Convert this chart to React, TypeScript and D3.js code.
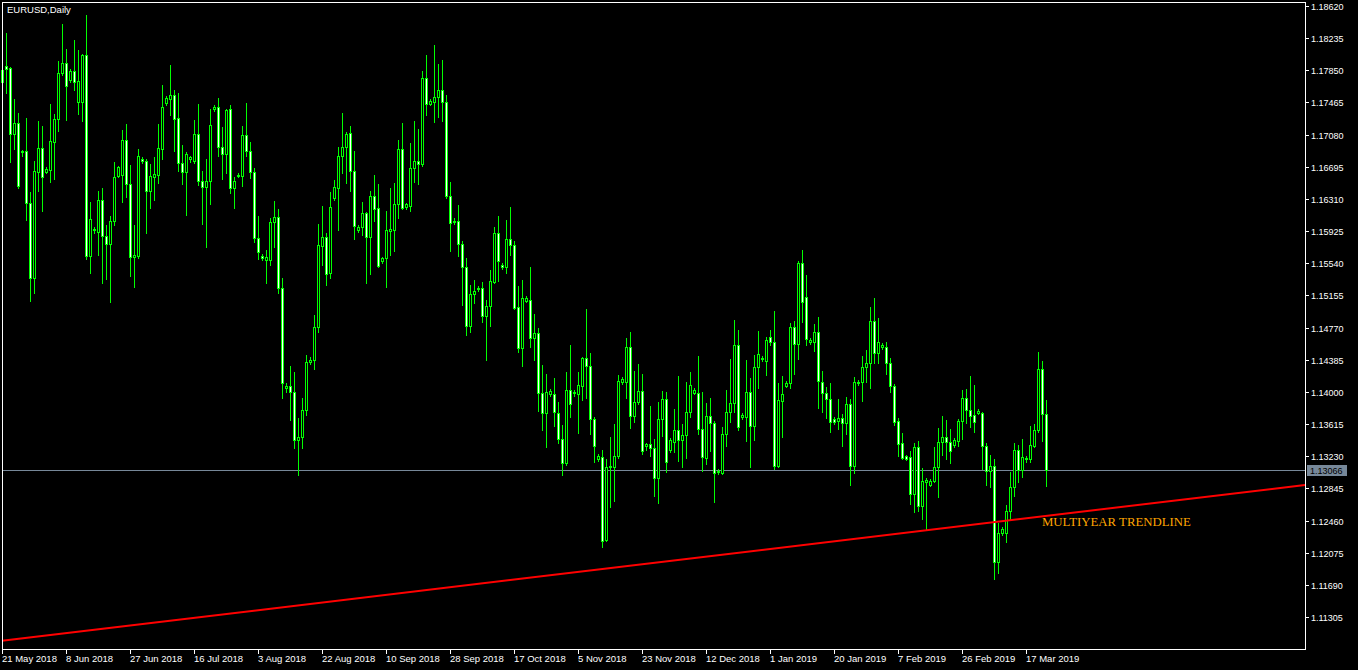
import * as d3 from "d3";

// EURUSD daily candles, 21 May 2018 .. 22 Mar 2019 (Sunday bars included, 25 Dec missing)
const OPEN = [
  1.1771, 1.1790, 1.1788, 1.1709, 1.1722, 1.1687, 1.1688, 1.1626, 1.1536, 1.1663, 1.1692, 1.1663, 1.1666, 1.1699, 1.1727, 1.1782,
  1.1794, 1.1774, 1.1784, 1.1747, 1.1747, 1.1803, 1.1563, 1.1594, 1.1591, 1.1630, 1.1587, 1.1577, 1.1605, 1.1658, 1.1660, 1.1701,
  1.1649, 1.1561, 1.1563, 1.1679, 1.1677, 1.1640, 1.1657, 1.1660, 1.1691, 1.1746, 1.1751, 1.1755, 1.1728, 1.1674, 1.1663, 1.1679,
  1.1677, 1.1709, 1.1652, 1.1645, 1.1653, 1.1739, 1.1741, 1.1693, 1.1685, 1.1739, 1.1644, 1.1658, 1.1658, 1.1707, 1.1688, 1.1663,
  1.1584, 1.1563, 1.1558, 1.1558, 1.1603, 1.1609, 1.1524, 1.1405, 1.1407, 1.1400, 1.1342, 1.1346, 1.1378, 1.1436, 1.1438, 1.1478,
  1.1575, 1.1585, 1.1542, 1.1632, 1.1644, 1.1683, 1.1693, 1.1710, 1.1665, 1.1594, 1.1597, 1.1614, 1.1585, 1.1634, 1.1620, 1.1557,
  1.1560, 1.1593, 1.1594, 1.1625, 1.1691, 1.1621, 1.1622, 1.1668, 1.1677, 1.1673, 1.1776, 1.1745, 1.1747, 1.1753, 1.1762, 1.1747,
  1.1634, 1.1605, 1.1605, 1.1577, 1.1549, 1.1479, 1.1517, 1.1523, 1.1524, 1.1491, 1.1503, 1.1531, 1.1590, 1.1552, 1.1549, 1.1583,
  1.1576, 1.1502, 1.1452, 1.1509, 1.1510, 1.1464, 1.1470, 1.1399, 1.1375, 1.1397, 1.1397, 1.1375, 1.1344, 1.1315, 1.1402, 1.1399,
  1.1397, 1.1407, 1.1440, 1.1431, 1.1367, 1.1320, 1.1322, 1.1223, 1.1310, 1.1310, 1.1323, 1.1412, 1.1412, 1.1454, 1.1371, 1.1388,
  1.1401, 1.1335, 1.1338, 1.1333, 1.1297, 1.1367, 1.1391, 1.1330, 1.1340, 1.1354, 1.1342, 1.1348, 1.1376, 1.1399, 1.1399, 1.1355,
  1.1321, 1.1371, 1.1363, 1.1305, 1.1303, 1.1350, 1.1376, 1.1387, 1.1456, 1.1370, 1.1370, 1.1400, 1.1359, 1.1430, 1.1439, 1.1437,
  1.1466, 1.1460, 1.1311, 1.1389, 1.1407, 1.1411, 1.1478, 1.1457, 1.1554, 1.1514, 1.1460, 1.1460, 1.1472, 1.1412, 1.1399, 1.1391,
  1.1367, 1.1365, 1.1369, 1.1363, 1.1385, 1.1311, 1.1411, 1.1412, 1.1430, 1.1434, 1.1485, 1.1446, 1.1454, 1.1454, 1.1434, 1.1407,
  1.1365, 1.1339, 1.1323, 1.1322, 1.1278, 1.1334, 1.1263, 1.1292, 1.1288, 1.1293, 1.1310, 1.1340, 1.1346, 1.1340, 1.1336, 1.1341,
  1.1365, 1.1393, 1.1378, 1.1372, 1.1375, 1.1375, 1.1335, 1.1305, 1.1311, 1.1196, 1.1231, 1.1231, 1.1257, 1.1286, 1.1330, 1.1306,
  1.1320, 1.1320, 1.1335, 1.1354, 1.1428, 1.1373,
];
const HIGH = [
  1.1790, 1.1830, 1.1789, 1.1751, 1.1734, 1.1690, 1.1728, 1.1639, 1.1676, 1.1724, 1.1718, 1.1669, 1.1745, 1.1733, 1.1796, 1.1840,
  1.1810, 1.1786, 1.1821, 1.1809, 1.1804, 1.1851, 1.1627, 1.1597, 1.1640, 1.1644, 1.1600, 1.1610, 1.1675, 1.1670, 1.1713, 1.1721,
  1.1672, 1.1600, 1.1691, 1.1681, 1.1679, 1.1673, 1.1681, 1.1721, 1.1767, 1.1754, 1.1791, 1.1762, 1.1758, 1.1695, 1.1687, 1.1683,
  1.1725, 1.1745, 1.1664, 1.1679, 1.1739, 1.1743, 1.1752, 1.1717, 1.1739, 1.1743, 1.1657, 1.1662, 1.1718, 1.1746, 1.1699, 1.1668,
  1.1610, 1.1565, 1.1570, 1.1608, 1.1628, 1.1619, 1.1536, 1.1411, 1.1431, 1.1424, 1.1369, 1.1393, 1.1444, 1.1442, 1.1492, 1.1601,
  1.1622, 1.1590, 1.1639, 1.1654, 1.1693, 1.1734, 1.1711, 1.1718, 1.1689, 1.1600, 1.1627, 1.1615, 1.1640, 1.1660, 1.1649, 1.1561,
  1.1616, 1.1644, 1.1650, 1.1701, 1.1722, 1.1626, 1.1698, 1.1724, 1.1715, 1.1784, 1.1803, 1.1751, 1.1815, 1.1792, 1.1797, 1.1756,
  1.1651, 1.1608, 1.1624, 1.1581, 1.1560, 1.1528, 1.1534, 1.1527, 1.1531, 1.1510, 1.1546, 1.1598, 1.1610, 1.1554, 1.1606, 1.1621,
  1.1581, 1.1527, 1.1534, 1.1515, 1.1549, 1.1493, 1.1476, 1.1432, 1.1421, 1.1403, 1.1417, 1.1388, 1.1360, 1.1424, 1.1456, 1.1402,
  1.1424, 1.1442, 1.1499, 1.1446, 1.1370, 1.1326, 1.1330, 1.1320, 1.1346, 1.1361, 1.1420, 1.1418, 1.1464, 1.1472, 1.1425, 1.1433,
  1.1421, 1.1339, 1.1383, 1.1344, 1.1388, 1.1401, 1.1400, 1.1345, 1.1379, 1.1419, 1.1361, 1.1412, 1.1424, 1.1405, 1.1443, 1.1400,
  1.1387, 1.1393, 1.1365, 1.1308, 1.1358, 1.1402, 1.1439, 1.1486, 1.1474, 1.1375, 1.1438, 1.1417, 1.1444, 1.1473, 1.1443, 1.1466,
  1.1474, 1.1497, 1.1411, 1.1419, 1.1413, 1.1482, 1.1485, 1.1557, 1.1570, 1.1540, 1.1464, 1.1481, 1.1490, 1.1425, 1.1406, 1.1411,
  1.1370, 1.1391, 1.1373, 1.1394, 1.1391, 1.1418, 1.1414, 1.1443, 1.1450, 1.1502, 1.1513, 1.1488, 1.1458, 1.1460, 1.1440, 1.1409,
  1.1369, 1.1351, 1.1324, 1.1329, 1.1339, 1.1341, 1.1309, 1.1297, 1.1296, 1.1334, 1.1357, 1.1371, 1.1366, 1.1356, 1.1345, 1.1367,
  1.1402, 1.1403, 1.1419, 1.1408, 1.1379, 1.1376, 1.1339, 1.1324, 1.1320, 1.1243, 1.1238, 1.1265, 1.1304, 1.1339, 1.1336, 1.1344,
  1.1323, 1.1359, 1.1361, 1.1448, 1.1437, 1.1390,
];
const LOW = [
  1.1764, 1.1758, 1.1675, 1.1691, 1.1644, 1.1683, 1.1606, 1.1509, 1.1518, 1.1640, 1.1616, 1.1662, 1.1651, 1.1655, 1.1712, 1.1779,
  1.1725, 1.1771, 1.1761, 1.1733, 1.1724, 1.1559, 1.1542, 1.1590, 1.1564, 1.1530, 1.1535, 1.1508, 1.1600, 1.1657, 1.1627, 1.1633,
  1.1539, 1.1525, 1.1560, 1.1674, 1.1590, 1.1620, 1.1630, 1.1650, 1.1679, 1.1743, 1.1731, 1.1688, 1.1664, 1.1649, 1.1612, 1.1675,
  1.1674, 1.1648, 1.1601, 1.1573, 1.1625, 1.1736, 1.1682, 1.1655, 1.1662, 1.1638, 1.1620, 1.1657, 1.1646, 1.1682, 1.1656, 1.1580,
  1.1559, 1.1558, 1.1530, 1.1552, 1.1573, 1.1518, 1.1393, 1.1400, 1.1366, 1.1333, 1.1300, 1.1333, 1.1372, 1.1433, 1.1428, 1.1472,
  1.1552, 1.1528, 1.1536, 1.1630, 1.1594, 1.1662, 1.1650, 1.1640, 1.1583, 1.1591, 1.1588, 1.1530, 1.1541, 1.1604, 1.1549, 1.1554,
  1.1525, 1.1564, 1.1569, 1.1608, 1.1619, 1.1619, 1.1616, 1.1651, 1.1649, 1.1670, 1.1731, 1.1743, 1.1723, 1.1729, 1.1724, 1.1632,
  1.1569, 1.1601, 1.1563, 1.1504, 1.1468, 1.1472, 1.1506, 1.1521, 1.1484, 1.1438, 1.1479, 1.1530, 1.1533, 1.1547, 1.1542, 1.1564,
  1.1499, 1.1448, 1.1431, 1.1508, 1.1454, 1.1438, 1.1377, 1.1354, 1.1334, 1.1395, 1.1359, 1.1339, 1.1300, 1.1312, 1.1370, 1.1395,
  1.1351, 1.1390, 1.1393, 1.1350, 1.1316, 1.1317, 1.1214, 1.1221, 1.1262, 1.1269, 1.1321, 1.1409, 1.1393, 1.1357, 1.1364, 1.1385,
  1.1326, 1.1330, 1.1323, 1.1275, 1.1267, 1.1347, 1.1304, 1.1328, 1.1328, 1.1317, 1.1310, 1.1321, 1.1370, 1.1397, 1.1350, 1.1305,
  1.1314, 1.1329, 1.1268, 1.1302, 1.1302, 1.1335, 1.1364, 1.1376, 1.1354, 1.1367, 1.1341, 1.1310, 1.1342, 1.1405, 1.1437, 1.1420,
  1.1456, 1.1308, 1.1310, 1.1346, 1.1406, 1.1405, 1.1422, 1.1439, 1.1484, 1.1456, 1.1457, 1.1449, 1.1381, 1.1376, 1.1369, 1.1352,
  1.1361, 1.1355, 1.1335, 1.1350, 1.1288, 1.1303, 1.1408, 1.1389, 1.1412, 1.1405, 1.1434, 1.1434, 1.1451, 1.1422, 1.1400, 1.1360,
  1.1323, 1.1320, 1.1318, 1.1266, 1.1256, 1.1258, 1.1248, 1.1235, 1.1287, 1.1292, 1.1274, 1.1324, 1.1320, 1.1315, 1.1334, 1.1335,
  1.1344, 1.1363, 1.1358, 1.1352, 1.1373, 1.1308, 1.1288, 1.1286, 1.1176, 1.1183, 1.1229, 1.1220, 1.1248, 1.1275, 1.1292, 1.1298,
  1.1316, 1.1316, 1.1334, 1.1352, 1.1341, 1.1287,
];
const CLOSE = [
  1.1785, 1.1786, 1.1709, 1.1722, 1.1646, 1.1688, 1.1626, 1.1536, 1.1664, 1.1692, 1.1657, 1.1667, 1.1700, 1.1727, 1.1782, 1.1794,
  1.1766, 1.1784, 1.1771, 1.1772, 1.1803, 1.1563, 1.1607, 1.1595, 1.1630, 1.1587, 1.1577, 1.1605, 1.1657, 1.1669, 1.1701, 1.1649,
  1.1561, 1.1564, 1.1682, 1.1677, 1.1640, 1.1658, 1.1661, 1.1692, 1.1741, 1.1752, 1.1755, 1.1727, 1.1674, 1.1663, 1.1685, 1.1681,
  1.1709, 1.1652, 1.1645, 1.1653, 1.1719, 1.1741, 1.1693, 1.1685, 1.1737, 1.1644, 1.1653, 1.1660, 1.1707, 1.1688, 1.1663, 1.1584,
  1.1567, 1.1560, 1.1561, 1.1603, 1.1609, 1.1524, 1.1411, 1.1407, 1.1400, 1.1342, 1.1346, 1.1378, 1.1436, 1.1438, 1.1478, 1.1576,
  1.1585, 1.1541, 1.1621, 1.1645, 1.1683, 1.1693, 1.1709, 1.1665, 1.1599, 1.1597, 1.1614, 1.1585, 1.1634, 1.1619, 1.1551, 1.1560,
  1.1594, 1.1595, 1.1625, 1.1691, 1.1620, 1.1625, 1.1668, 1.1677, 1.1673, 1.1776, 1.1745, 1.1748, 1.1753, 1.1762, 1.1747, 1.1634,
  1.1602, 1.1603, 1.1577, 1.1549, 1.1479, 1.1517, 1.1521, 1.1524, 1.1491, 1.1503, 1.1533, 1.1590, 1.1557, 1.1549, 1.1583, 1.1576,
  1.1500, 1.1452, 1.1513, 1.1512, 1.1464, 1.1470, 1.1399, 1.1375, 1.1400, 1.1401, 1.1376, 1.1344, 1.1315, 1.1402, 1.1385, 1.1400,
  1.1408, 1.1440, 1.1431, 1.1367, 1.1335, 1.1323, 1.1221, 1.1310, 1.1311, 1.1323, 1.1413, 1.1415, 1.1454, 1.1371, 1.1388, 1.1401,
  1.1329, 1.1338, 1.1333, 1.1297, 1.1367, 1.1391, 1.1316, 1.1342, 1.1354, 1.1342, 1.1348, 1.1376, 1.1408, 1.1402, 1.1355, 1.1322,
  1.1371, 1.1363, 1.1303, 1.1304, 1.1350, 1.1376, 1.1387, 1.1456, 1.1358, 1.1372, 1.1400, 1.1359, 1.1430, 1.1445, 1.1440, 1.1462,
  1.1460, 1.1311, 1.1390, 1.1397, 1.1411, 1.1478, 1.1457, 1.1554, 1.1508, 1.1463, 1.1462, 1.1472, 1.1413, 1.1399, 1.1391, 1.1364,
  1.1364, 1.1369, 1.1363, 1.1385, 1.1311, 1.1412, 1.1412, 1.1430, 1.1434, 1.1485, 1.1446, 1.1460, 1.1456, 1.1434, 1.1407, 1.1364,
  1.1338, 1.1321, 1.1320, 1.1278, 1.1334, 1.1263, 1.1293, 1.1294, 1.1293, 1.1310, 1.1340, 1.1346, 1.1340, 1.1329, 1.1342, 1.1365,
  1.1393, 1.1378, 1.1371, 1.1364, 1.1377, 1.1335, 1.1305, 1.1311, 1.1196, 1.1231, 1.1236, 1.1257, 1.1286, 1.1330, 1.1306, 1.1322,
  1.1321, 1.1336, 1.1354, 1.1428, 1.1373, 1.13066,
];

const TITLE = "EURUSD,Daily";
const PRICE_TICKS = [
  "1.18620", "1.18235", "1.17850", "1.17465", "1.17080", "1.16695", "1.16310", "1.15925", "1.15540", "1.15155",
  "1.14770", "1.14385", "1.14000", "1.13615", "1.13230", "1.12845", "1.12460", "1.12075", "1.11690", "1.11305",
];
const X_TICK_BARS = [0, 16, 32, 48, 64, 80, 96, 112, 128, 144, 160, 176, 192, 208, 224, 240, 256];
const X_TICK_LABELS = [
  "21 May 2018", "8 Jun 2018", "27 Jun 2018", "16 Jul 2018", "3 Aug 2018", "22 Aug 2018", "10 Sep 2018",
  "28 Sep 2018", "17 Oct 2018", "5 Nov 2018", "23 Nov 2018", "12 Dec 2018", "1 Jan 2019", "20 Jan 2019",
  "7 Feb 2019", "26 Feb 2019", "17 Mar 2019",
];
const LAST_PRICE = 1.13066;
// trendline anchors (bar index, price)
const TREND_BARS = [0, 325.7];
const TREND_PRICES = [1.1102, 1.12886];
const TREND_LABEL = "MULTIYEAR TRENDLINE";
const TREND_LABEL_BAR = 259.9;

const W = 1358;
const H = 670;
const FRAME = { left: 2, top: 2, right: 1305, bottom: 649 };
const GREEN = "#00ff00";
const SLATE = "#778899";
const FONT = "'Liberation Sans', Arial, sans-serif";

export default function App() {
  const x = d3.scaleLinear().domain([0, 261]).range([2.33, 1046.33]);
  const y = d3.scaleLinear().domain([1.11305, 1.1862]).range([617, 6]);
  const trend = d3.scaleLinear().domain(TREND_BARS).range(TREND_PRICES);

  const candles = OPEN.map((o, i) => {
    const c = CLOSE[i];
    const col = Math.floor(x(i));
    const yHigh = Math.round(y(HIGH[i]));
    const yLow = Math.round(y(LOW[i]));
    const top = Math.round(y(Math.max(o, c)));
    const bottom = Math.round(y(Math.min(o, c)));
    const h = Math.max(1, bottom - top + 1);
    const bear = c < o;
    return (
      <g key={i}>
        <rect x={col} y={yHigh} width={1} height={yLow - yHigh + 1} fill={GREEN} />
        <rect x={col - 1} y={top} width={3} height={h} fill={GREEN} />
        {h > 2 && (
          <rect x={col} y={top + 1} width={1} height={h - 2} fill={bear ? "#ffffff" : "#000000"} />
        )}
      </g>
    );
  });

  const lastY = Math.round(y(LAST_PRICE)) + 0.5;
  const labelY = y(trend(TREND_LABEL_BAR)) + 10;

  return (
    <svg
      width={W}
      height={H}
      style={{ position: "fixed", left: 0, top: 0, display: "block" }}
      shapeRendering="crispEdges"
    >
      <rect width={W} height={H} fill="#000" />

      {/* bid line */}
      <line x1={FRAME.left} x2={FRAME.right} y1={lastY} y2={lastY} stroke={SLATE} />

      {candles}

      {/* trendline object */}
      <line
        x1={x(TREND_BARS[0]) - 0.3}
        x2={FRAME.right}
        y1={y(TREND_PRICES[0])}
        y2={y(trend((FRAME.right - 2.33) / 4))}
        stroke="#ff0000"
        strokeWidth={2}
        shapeRendering="auto"
      />
      <text
        x={x(TREND_LABEL_BAR)}
        y={labelY}
        fill="#ffa500"
        fontFamily="'Liberation Serif', 'Times New Roman', serif"
        fontSize={13}
        textLength={149}
        lengthAdjust="spacingAndGlyphs"
        shapeRendering="auto"
      >
        {TREND_LABEL}
      </text>

      {/* frame */}
      <rect
        x={FRAME.left + 0.5}
        y={FRAME.top + 0.5}
        width={FRAME.right - FRAME.left}
        height={FRAME.bottom - FRAME.top}
        fill="none"
        stroke="#fff"
      />

      <text x={7} y={13} fill="#fff" fontFamily={FONT} fontSize={9.5}>
        {TITLE}
      </text>

      {/* price axis */}
      {PRICE_TICKS.map((p) => {
        const yy = Math.round(y(+p)) + 0.5;
        return (
          <g key={p}>
            <line x1={FRAME.right} x2={FRAME.right + 4} y1={yy} y2={yy} stroke="#fff" />
            <text x={1311} y={yy + 3.5} fill="#fff" fontFamily={FONT} fontSize={9}>
              {p}
            </text>
          </g>
        );
      })}
      <rect x={1307} y={lastY - 5.5} width={40} height={11} fill={SLATE} />
      <text x={1310} y={lastY + 3.5} fill="#000" fontFamily={FONT} fontSize={9}>
        {LAST_PRICE.toFixed(5)}
      </text>

      {/* time axis */}
      {X_TICK_BARS.map((b, k) => {
        const xx = Math.floor(x(b)) + 0.5;
        return (
          <g key={b}>
            <line x1={xx} x2={xx} y1={FRAME.bottom} y2={FRAME.bottom + 5} stroke="#fff" />
            <text x={xx - 0.5} y={662} fill="#fff" fontFamily={FONT} fontSize={9.5}>
              {X_TICK_LABELS[k]}
            </text>
          </g>
        );
      })}
    </svg>
  );
}
